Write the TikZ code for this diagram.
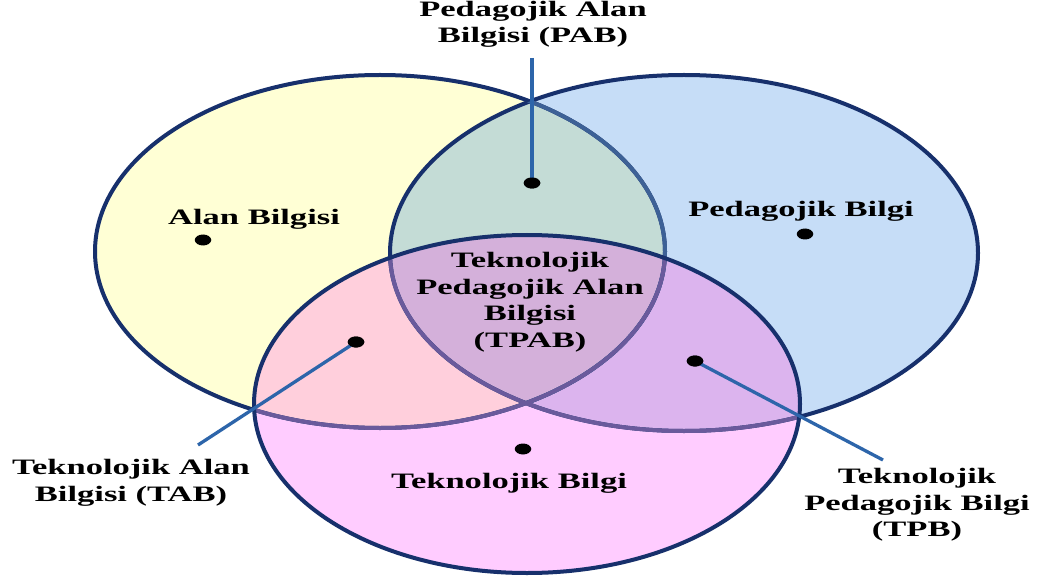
\documentclass[tikz,border=0pt]{standalone}
\usepackage{fontspec}
\setmainfont{Liberation Serif}
\definecolor{cY}{HTML}{FFFFD5}
\definecolor{cB}{HTML}{C6DDF7}
\definecolor{cP}{HTML}{FFCCFF}
\definecolor{cG}{HTML}{C4DCD6}
\definecolor{cLB}{HTML}{FFCFDC}
\definecolor{cRB}{HTML}{DCB4EE}
\definecolor{cC}{HTML}{D4B0DA}
\definecolor{navy}{HTML}{17306C}
\definecolor{midb}{HTML}{3D6196}
\definecolor{purp}{HTML}{6A5A9C}
\definecolor{leadc}{HTML}{2D65AA}
\begin{document}
\begin{tikzpicture}[x=1pt,y=-1pt,
  lbl/.style={font=\bfseries\fontsize{22}{26.5}\selectfont, align=center, xscale=1.57, inner sep=0pt},
  dot/.style={circle, fill=black, minimum size=11pt, inner sep=0pt, xscale=1.5},
  leader/.style={draw=leadc, line width=3.3pt},
  rim/.style={line width=4pt}]
\useasboundingbox (0,0) rectangle (1044,580);
\fill[white] (0,0) rectangle (1044,580);
\def\ellL{(380,251.5) ellipse [x radius=285pt, y radius=176.5pt]}
\def\ellR{(684,253) ellipse [x radius=294pt, y radius=178pt]}
\def\ellB{(527,404) ellipse [x radius=273pt, y radius=169pt]}
% fills
\fill[cY] \ellL;
\fill[cB] \ellR;
\fill[cP] \ellB;
\begin{scope}
  \clip \ellL;
  \fill[cG] \ellR;
  \fill[cLB] \ellB;
\end{scope}
\begin{scope}
  \clip \ellR;
  \fill[cRB] \ellB;
  \clip \ellL;
  \fill[cC] \ellB;
\end{scope}
% outlines
\draw[rim, navy] \ellL;
\draw[rim, navy] \ellR;
\begin{scope}
  \clip \ellR;
  \draw[rim, midb] \ellL;
\end{scope}
\begin{scope}
  \clip \ellB;
  \draw[rim, purp] \ellL;
  \draw[rim, purp] \ellR;
\end{scope}
\draw[rim, navy] \ellB;
% dots
\node[dot] (dAB) at (203,240) {};
\node[dot] (dPAB) at (532,183) {};
\node[dot] (dPB) at (805,234) {};
\node[dot] (dTAB) at (356,342) {};
\node[dot] (dTPB) at (695,361) {};
\node[dot] (dTB) at (523,449) {};
% leaders
\coordinate (pabTop) at (532,58);
\coordinate (tabEnd) at (198,445);
\coordinate (tpbEnd) at (883,460);
\draw[leader] (pabTop) -- (dPAB.center);
\draw[leader] (dTAB.center) -- (tabEnd);
\draw[leader] (dTPB.center) -- (tpbEnd);
\node[dot] at (dPAB) {};
\node[dot] at (dTAB) {};
\node[dot] at (dTPB) {};
% labels
\node[lbl] (tPAB) at (533,24.5) {Pedagojik Alan\\Bilgisi (PAB)};
\node[lbl] (tAB) at (254,219) {Alan Bilgisi};
\node[lbl] (tPB) at (801,211) {Pedagojik Bilgi};
\node[lbl] (tTPAB) at (530,302) {Teknolojik\\Pedagojik Alan\\Bilgisi\\(TPAB)};
\node[lbl] (tTAB) at (131,483) {Teknolojik Alan\\Bilgisi (TAB)};
\node[lbl] (tTB) at (509,483) {Teknolojik Bilgi};
\node[lbl] (tTPB) at (917,505) {Teknolojik\\Pedagojik Bilgi\\(TPB)};
\end{tikzpicture}
\end{document}
